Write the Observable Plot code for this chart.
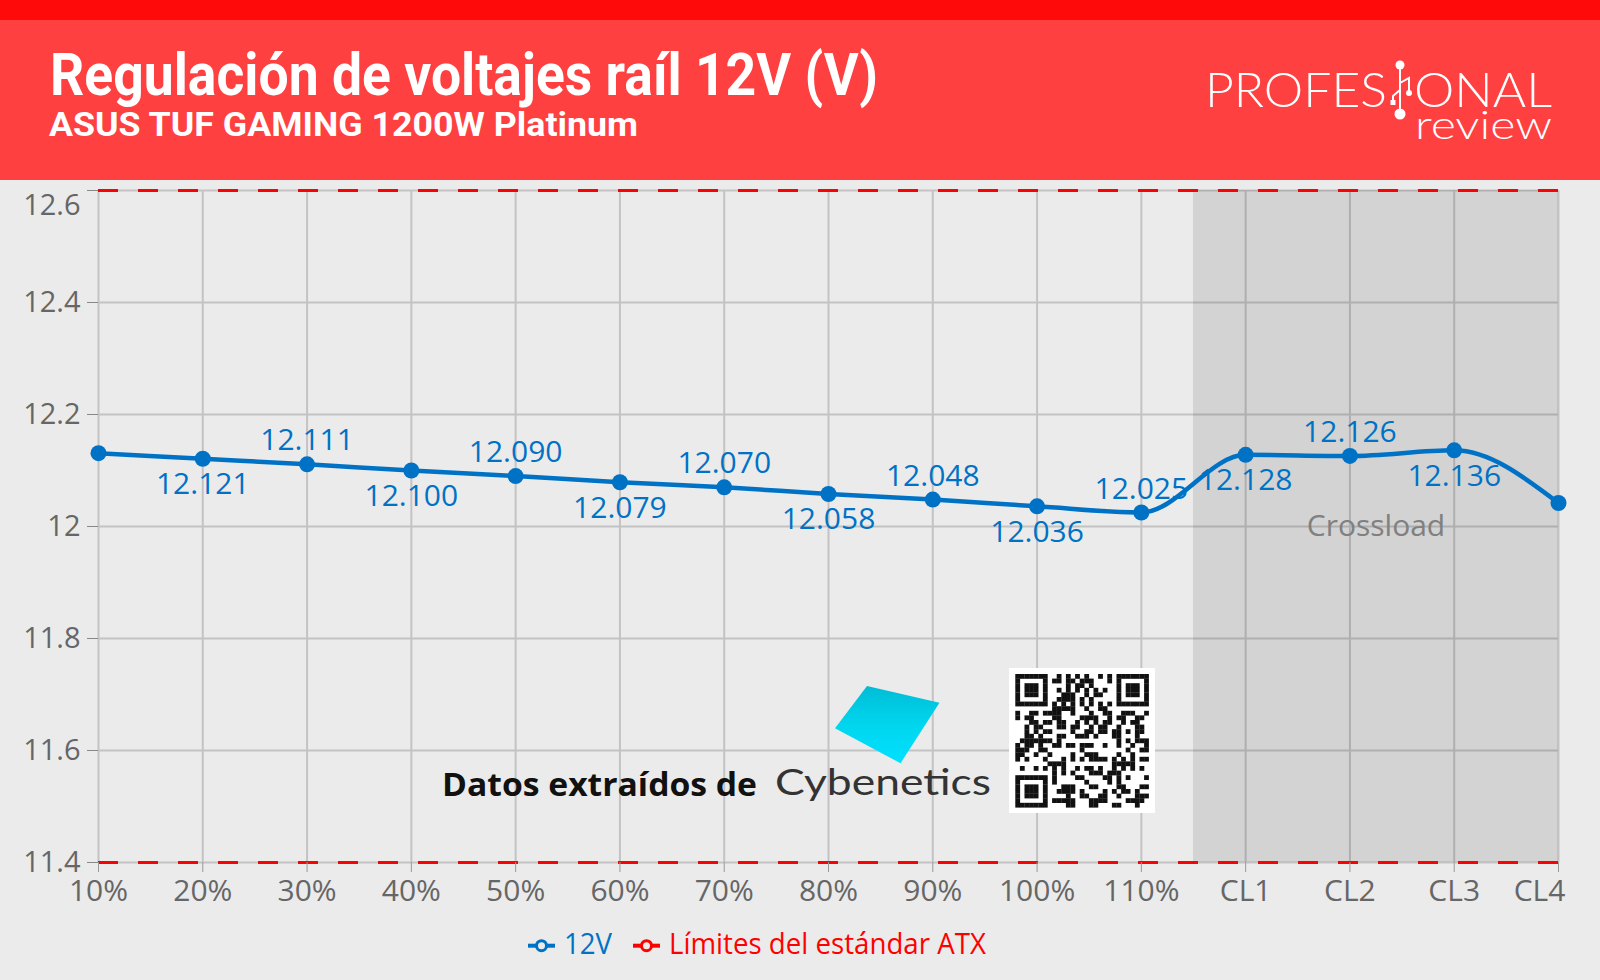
<!DOCTYPE html>
<html>
<head>
<meta charset="utf-8">
<script src="https://cdn.jsdelivr.net/npm/d3@7"></script>
<script src="https://cdn.jsdelivr.net/npm/@observablehq/plot@0.6"></script>
<style>
  html, body { margin: 0; padding: 0; background: #ebebeb; }
  #page { position: relative; width: 1600px; height: 980px; overflow: hidden; background: #ebebeb; font-family: "Open Sans", sans-serif; }
  #header { position: absolute; left: 0; top: 0; }
  #chart { position: absolute; left: 0; top: 180px; width: 1600px; height: 740px; }
  #legend { position: absolute; left: 0; top: 920px; }
  #overlay { position: absolute; left: 0; top: 0; pointer-events: none; }
</style>
</head>
<body>
<div id="page">
  <svg id="header" width="1600" height="180" xmlns="http://www.w3.org/2000/svg">
    <rect x="0" y="0" width="1600" height="180" fill="#ff4040"/>
    <rect x="0" y="0" width="1600" height="20" fill="#ff0a0a"/>
    <text x="50" y="95" fill="#ffffff" font-family="Roboto, sans-serif" font-weight="700" font-size="59" textLength="828" lengthAdjust="spacingAndGlyphs">Regulación de voltajes raíl 12V (V)</text>
    <text x="49" y="136" fill="#ffffff" font-family="Roboto, sans-serif" font-weight="700" font-size="34" textLength="589" lengthAdjust="spacingAndGlyphs">ASUS TUF GAMING 1200W Platinum</text>
    <g fill="#ffffff" font-family="Lato, sans-serif" font-weight="300">
      <text x="1205" y="107" font-size="48" textLength="182" lengthAdjust="spacingAndGlyphs">PROFES</text>
      <text x="1414" y="107" font-size="48" textLength="138" lengthAdjust="spacingAndGlyphs">ONAL</text>
      <text x="1415" y="139" font-size="39" textLength="137" lengthAdjust="spacingAndGlyphs">review</text>
    </g>
    <g stroke="#ffffff" stroke-width="2" fill="none">
      <line x1="1400" y1="65" x2="1400" y2="114"/>
      <polyline points="1400,83 1409,78 1409,92"/>
      <polyline points="1400,90 1393,96 1393,101"/>
    </g>
    <g fill="#ffffff">
      <circle cx="1400" cy="65" r="4.5"/>
      <circle cx="1400" cy="114" r="5.5"/>
      <circle cx="1409" cy="93" r="3"/>
      <rect x="1390.5" y="100" width="5" height="5"/>
    </g>
  </svg>

  <div id="chart"></div>

  <svg id="legend" width="1600" height="60" xmlns="http://www.w3.org/2000/svg"></svg>

  <svg id="overlay" width="1600" height="980" xmlns="http://www.w3.org/2000/svg">
    <defs>
      <linearGradient id="cyb" x1="0" y1="0" x2="0" y2="1">
        <stop offset="0" stop-color="#00bcd6"/>
        <stop offset="0.5" stop-color="#00d6ee"/>
        <stop offset="1" stop-color="#00e0ff"/>
      </linearGradient>
    </defs>
    <text x="442" y="796" fill="#111111" font-family="'Open Sans', sans-serif" font-weight="700" font-size="32" textLength="315" lengthAdjust="spacingAndGlyphs">Datos extraídos de</text>
    <polygon points="867,686 939.5,702.7 900.5,763.3 835,728.3" fill="url(#cyb)"/>
    <text x="775" y="795" fill="#333333" font-family="Lato, sans-serif" font-weight="400" font-size="37" textLength="216" lengthAdjust="spacingAndGlyphs">Cybenetics</text>
    <rect x="1009" y="668" width="146" height="145" fill="#ffffff"/>
    <g id="qr" fill="#111111"></g>
  </svg>
</div>

<script>
// ---------------- data ----------------
const categories = ["10%", "20%", "30%", "40%", "50%", "60%", "70%", "80%", "90%", "100%", "110%", "CL1", "CL2", "CL3", "CL4"];
const voltage12V = [12.131, 12.121, 12.111, 12.100, 12.090, 12.079, 12.070, 12.058, 12.048, 12.036, 12.025, 12.128, 12.126, 12.136, 12.042];
const atxLimits = [11.4, 12.6];
const yTicks = [11.4, 11.6, 11.8, 12.0, 12.2, 12.4, 12.6];
const yTickLabels = ["11.4", "11.6", "11.8", "12", "12.2", "12.4", "12.6"];
const seriesNames = ["12V", "Límites del estándar ATX"];
const crossloadLabel = "Crossload";
const crossloadFirst = "CL1";

// ---------------- styles ----------------
const BLUE = "#0072c6";
const RED = "#ff0000";
const GRID = "#c3c3c3";
const TEXT_GREY = "#666666";

const rows = categories.map((c, i) => ({i, cat: c, v: voltage12V[i]}));
const idx = d3.range(categories.length);
const lastIdx = categories.length - 1;
const bandStart = categories.indexOf(crossloadFirst) - 0.5;
const labeled = rows.slice(1, -1);
const above = labeled.filter(d => d.i % 2 === 0);
const below = labeled.filter(d => d.i % 2 === 1);
const yLabel = v => yTickLabels[yTicks.indexOf(v)];
const topTick = yTicks[yTicks.length - 1];

const chart = Plot.plot({
  width: 1600,
  height: 740,
  marginLeft: 98,
  marginRight: 42,
  marginTop: 10,
  marginBottom: 58,
  style: {background: "#ebebeb", fontFamily: "'Open Sans', sans-serif", overflow: "visible"},
  x: {type: "linear", domain: [0, lastIdx]},
  y: {domain: [yTicks[0], topTick]},
  marks: [
    Plot.gridY(yTicks, {stroke: GRID, strokeOpacity: 1, strokeWidth: 2}),
    Plot.gridX(idx, {stroke: GRID, strokeOpacity: 1, strokeWidth: 2}),
    Plot.rect([{x1: bandStart, x2: lastIdx, y1: yTicks[0], y2: topTick}], {x1: "x1", x2: "x2", y1: "y1", y2: "y2", fill: "#000000", fillOpacity: 0.1}),
    Plot.ruleY(atxLimits, {stroke: RED, strokeWidth: 3, strokeDasharray: "20,20"}),
    Plot.text([{x: (bandStart + lastIdx) / 2, y: 12}], {x: "x", y: "y", text: () => crossloadLabel, fill: "#808080", fontSize: 30, lineAnchor: "middle"}),
    Plot.line(rows, {x: "i", y: "v", stroke: BLUE, strokeWidth: 4.5, curve: "monotone-x"}),
    Plot.dot(rows, {x: "i", y: "v", r: 8, fill: BLUE, stroke: "none"}),
    Plot.text(above, {x: "i", y: "v", text: d => d.v.toFixed(3), dy: -14, lineAnchor: "bottom", fill: BLUE, fontSize: 30}),
    Plot.text(below, {x: "i", y: "v", text: d => d.v.toFixed(3), dy: 14, lineAnchor: "top", fill: BLUE, fontSize: 30}),
    Plot.axisY(yTicks, {tickSize: 11, tickFormat: () => "", stroke: "#888888", label: null}),
    Plot.axisY(yTicks.filter(t => t !== topTick), {tickSize: 0, tickPadding: 18, tickFormat: yLabel, fill: TEXT_GREY, fontSize: 29, label: null}),
    Plot.axisY([topTick], {tickSize: 0, tickPadding: 18, tickFormat: yLabel, dy: 15, fill: TEXT_GREY, fontSize: 29, label: null}),
    Plot.axisX(idx, {tickSize: 10, tickFormat: () => "", stroke: "#999999", label: null}),
    Plot.axisX(idx.slice(0, -1), {tickSize: 0, tickPadding: 17, tickFormat: i => categories[i], fill: TEXT_GREY, fontSize: 30, label: null}),
    Plot.axisX([lastIdx], {tickSize: 0, tickPadding: 17, dx: -19, tickFormat: i => categories[i], fill: TEXT_GREY, fontSize: 30, label: null})
  ]
});
document.getElementById("chart").appendChild(chart);

// ---------------- legend ----------------
const NS = "http://www.w3.org/2000/svg";
const legend = document.getElementById("legend");
function el(tag, attrs, parent) {
  const e = document.createElementNS(NS, tag);
  for (const k in attrs) e.setAttribute(k, attrs[k]);
  parent.appendChild(e);
  return e;
}
const legendItems = [
  {name: seriesNames[0], color: BLUE, x: 528, textLen: 48},
  {name: seriesNames[1], color: RED, x: 633, textLen: 317}
];
for (const it of legendItems) {
  el("line", {x1: it.x, x2: it.x + 27, y1: 25.7, y2: 25.7, stroke: it.color, "stroke-width": 4}, legend);
  el("circle", {cx: it.x + 13.5, cy: 25.7, r: 5, fill: "#ebebeb", stroke: it.color, "stroke-width": 3}, legend);
  const t = el("text", {x: it.x + 36, y: 34, fill: it.color, "font-family": "'Open Sans', sans-serif", "font-size": 29, textLength: it.textLen, lengthAdjust: "spacingAndGlyphs"}, legend);
  t.textContent = it.name;
}

// ---------------- decorative QR code (watermark) ----------------
const qr = document.getElementById("qr");
const N = 29, m = 4.6, ox = 1015.3, oy = 674;
function inFinder(r, c, fr, fc) { return r >= fr && r < fr + 7 && c >= fc && c < fc + 7; }
function finderOn(r, c, fr, fc) {
  const a = r - fr, b = c - fc;
  if (a === 0 || a === 6 || b === 0 || b === 6) return true;
  if (a >= 2 && a <= 4 && b >= 2 && b <= 4) return true;
  return false;
}
const finders = [[0, 0], [0, N - 7], [N - 7, 0]];
for (let r = 0; r < N; r++) {
  for (let c = 0; c < N; c++) {
    let on = false, handled = false;
    for (const [fr, fc] of finders) {
      if (r >= fr - 1 && r <= fr + 7 && c >= fc - 1 && c <= fc + 7) {
        handled = true;
        on = inFinder(r, c, fr, fc) && finderOn(r, c, fr, fc);
      }
    }
    if (!handled) {
      if (r === 6) on = c % 2 === 0;
      else if (c === 6) on = r % 2 === 0;
      else on = ((r * 7 + c * 13 + ((r * c) % 5) * 3 + (r ^ c)) % 9) < 4;
    }
    if (on) el("rect", {x: ox + c * m, y: oy + r * m, width: m + 0.2, height: m + 0.2}, qr);
  }
}
</script>
</body>
</html>
